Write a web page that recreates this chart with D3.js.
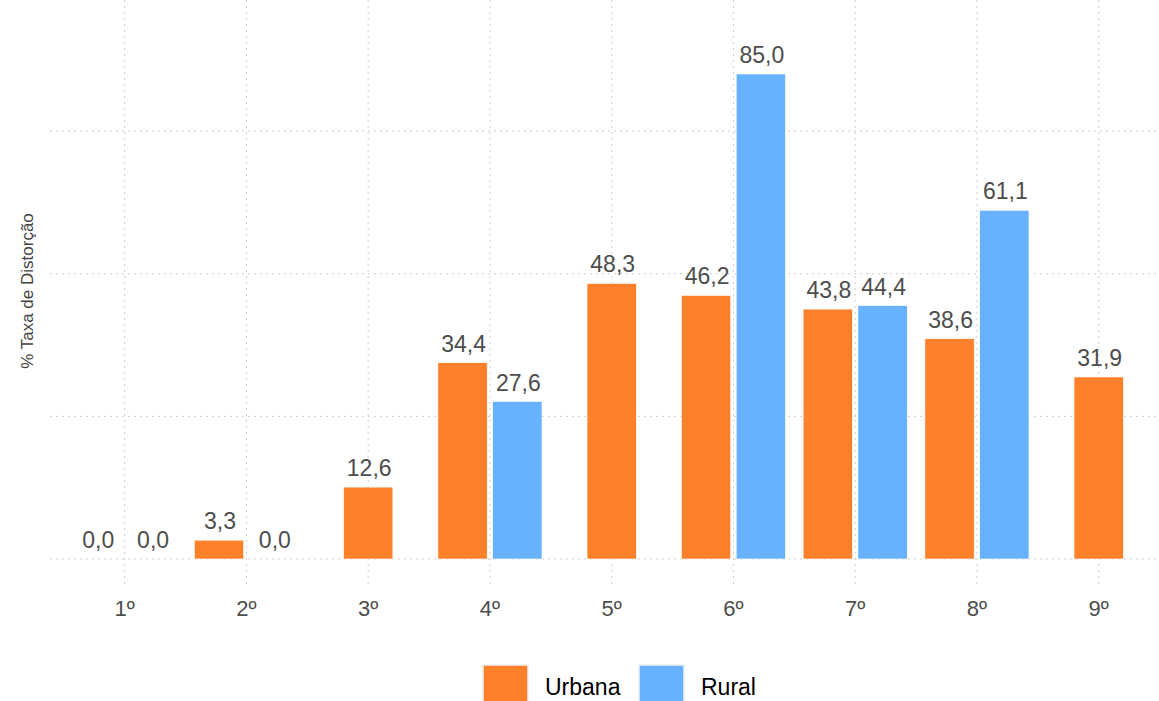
<!DOCTYPE html>
<html>
<head>
<meta charset="utf-8">
<script src="https://cdn.jsdelivr.net/npm/d3@7"></script>
<style>
  html, body { margin: 0; padding: 0; background: #fff; }
  svg { display: block; font-family: "Liberation Sans", Arial, Helvetica, sans-serif; }
</style>
</head>
<body>
<svg id="chart" width="1159" height="701"></svg>
<script>
const categories = ["1º", "2º", "3º", "4º", "5º", "6º", "7º", "8º", "9º"];
const urbana = [0.0, 3.3, 12.6, 34.4, 48.3, 46.2, 43.8, 38.6, 31.9];
const rural  = [0.0, 0.0, null, 27.6, null, 85.0, 44.4, 61.1, null];
const yTicks = [0, 25, 50, 75];
const seriesNames = ["Urbana", "Rural"];
const seriesColors = ["#FF802B", "#66B2FF"];
const yTitle = "% Taxa de Distorção";

const svg = d3.select("#chart");
const W = 1159, H = 701;

const x = d3.scalePoint().domain(categories).range([124.7, 1098.7]);
const y = d3.scaleLinear().domain([0, 85]).range([559, 74]);
const step = x.step();
const slot = step * 0.9 / 2;
const barW = slot * 0.9;
const panelLeft = 50, panelBottom = 585;

// gridlines
const grid = svg.append("g");
grid.selectAll("line.h").data(yTicks).enter().append("line")
  .attr("x1", panelLeft).attr("x2", W)
  .attr("y1", d => y(d)).attr("y2", d => y(d))
  .attr("stroke", "#cfcfcf").attr("stroke-width", 1).attr("stroke-dasharray", "2,4");
grid.selectAll("line.v").data(categories).enter().append("line")
  .attr("x1", d => x(d)).attr("x2", d => x(d))
  .attr("y1", 0).attr("y2", panelBottom)
  .attr("stroke", "#cfcfcf").attr("stroke-width", 1).attr("stroke-dasharray", "2,4");

// data records
const records = [];
categories.forEach((c, i) => {
  const hasRural = rural[i] !== null;
  const vals = [urbana[i], rural[i]];
  vals.forEach((v, s) => {
    if (v === null) return;
    let cx;
    if (hasRural) cx = x(c) + (s === 0 ? -slot / 2 : slot / 2);
    else cx = x(c);
    records.push({ c, s, v, cx });
  });
});

svg.append("g").selectAll("rect").data(records).enter().append("rect")
  .attr("x", d => d.cx - barW / 2)
  .attr("width", barW)
  .attr("y", d => y(d.v))
  .attr("height", d => y(0) - y(d.v))
  .attr("fill", d => seriesColors[d.s])
  .attr("stroke", "#ffffff").attr("stroke-width", 0.6);

svg.append("g").selectAll("text").data(records).enter().append("text")
  .attr("x", d => d.cx + 1)
  .attr("y", d => y(d.v) - 11)
  .attr("text-anchor", "middle")
  .attr("font-size", 23)
  .attr("fill", "#4d4d4d")
  .text(d => d3.format(".1f")(d.v).replace(".", ","));

// x axis labels
svg.append("g").selectAll("text").data(categories).enter().append("text")
  .attr("x", d => x(d))
  .attr("y", 616)
  .attr("text-anchor", "middle")
  .attr("font-size", 22)
  .attr("fill", "#4d4d4d")
  .text(d => d);

// y title
svg.append("text")
  .attr("transform", "translate(33,291) rotate(-90)")
  .attr("text-anchor", "middle")
  .attr("font-size", 17)
  .attr("fill", "#444")
  .text(yTitle);

// legend
const legendItems = [
  { name: seriesNames[0], color: seriesColors[0], kx: 483, tx: 545 },
  { name: seriesNames[1], color: seriesColors[1], kx: 639, tx: 701 }
];
const lg = svg.append("g");
lg.selectAll("rect").data(legendItems).enter().append("rect")
  .attr("x", d => d.kx).attr("y", 665)
  .attr("width", 45).attr("height", 45)
  .attr("fill", d => d.color)
  .attr("stroke", "#f0f0f0").attr("stroke-width", 1.5);
lg.selectAll("text").data(legendItems).enter().append("text")
  .attr("x", d => d.tx).attr("y", 695)
  .attr("font-size", 23)
  .attr("fill", "#000")
  .text(d => d.name);
</script>
</body>
</html>
